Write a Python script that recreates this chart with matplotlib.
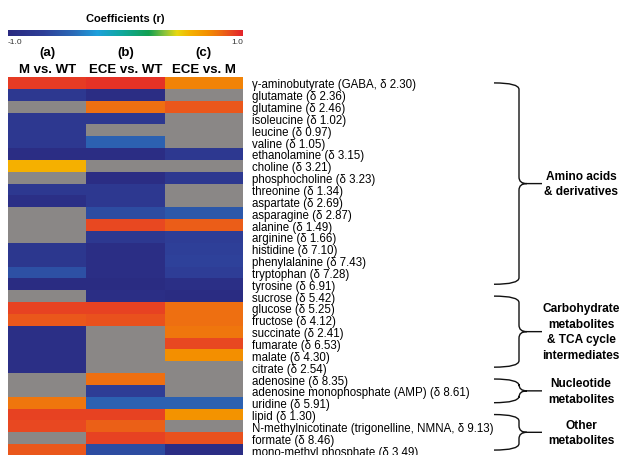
import numpy as np
import matplotlib
matplotlib.use("Agg")
from matplotlib import pyplot as plt
from matplotlib.colors import LinearSegmentedColormap
from matplotlib.path import Path
from matplotlib.patches import PathPatch

plt.rcParams["font.family"] = ["Liberation Sans", "DejaVu Sans"]

# Metabolite rows, top to bottom
metabolites = [
    "γ-aminobutyrate (GABA, δ 2.30)",
    "glutamate (δ 2.36)",
    "glutamine (δ 2.46)",
    "isoleucine (δ 1.02)",
    "leucine (δ 0.97)",
    "valine (δ 1.05)",
    "ethanolamine (δ 3.15)",
    "choline (δ 3.21)",
    "phosphocholine (δ 3.23)",
    "threonine (δ 1.34)",
    "aspartate (δ 2.69)",
    "asparagine (δ 2.87)",
    "alanine (δ 1.49)",
    "arginine (δ 1.66)",
    "histidine (δ 7.10)",
    "phenylalanine (δ 7.43)",
    "tryptophan (δ 7.28)",
    "tyrosine (δ 6.91)",
    "sucrose (δ 5.42)",
    "glucose (δ 5.25)",
    "fructose (δ 4.12)",
    "succinate (δ 2.41)",
    "fumarate (δ 6.53)",
    "malate (δ 4.30)",
    "citrate (δ 2.54)",
    "adenosine (δ 8.35)",
    "adenosine monophosphate (AMP) (δ 8.61)",
    "uridine (δ 5.91)",
    "lipid (δ 1.30)",
    "N-methylnicotinate (trigonelline, NMNA, δ 9.13)",
    "formate (δ 8.46)",
    "mono-methyl phosphate (δ 3.49)",
]

panel_tags = ["(a)", "(b)", "(c)"]
comparisons = ["M vs. WT", "ECE vs. WT", "ECE vs. M"]

nan = np.nan
# correlation coefficients; nan = not significant
r_m_wt = [0.93, -0.80, nan, -0.80, -0.80, -0.80, -0.95, 0.56, nan, -0.80,
          -0.92, nan, nan, nan, -0.82, -0.82, -0.60, -0.97, nan, 0.92,
          0.86, -0.92, -0.92, -0.92, -0.92, nan, nan, 0.78, 0.92, 0.90,
          nan, 0.86]
r_ece_wt = [0.96, -0.95, 0.80, -0.80, nan, -0.50, -0.95, nan, -0.95, -0.80,
            -0.80, -0.62, 0.90, -0.80, -0.93, -0.93, -0.93, -0.97, -0.93, 0.92,
            0.88, nan, nan, nan, nan, 0.80, -0.72, -0.50, 0.92, 0.84,
            0.92, -0.62]
r_ece_m = [0.74, nan, 0.86, nan, nan, nan, -0.80, nan, -0.80, nan,
           nan, -0.55, 0.85, -0.72, -0.70, -0.68, -0.72, -0.92, -0.97, 0.80,
           0.80, 0.78, 0.90, 0.70, nan, nan, nan, -0.50, 0.68, nan,
           0.88, -0.95]

groups = ["Amino acids\n& derivatives",
          "Carbohydrate\nmetabolites\n& TCA cycle\nintermediates",
          "Nucleotide\nmetabolites",
          "Other\nmetabolites"]
group_first = [0, 18, 25, 28]
group_last = [17, 24, 27, 31]

cmap = LinearSegmentedColormap.from_list("coef", [
    (0.00, "#2a2a80"),
    (0.15, "#2e3f98"),
    (0.28, "#2b6bb8"),
    (0.38, "#1ea0dc"),
    (0.48, "#10a8a0"),
    (0.60, "#12a050"),
    (0.67, "#8ec43a"),
    (0.72, "#e8d810"),
    (0.78, "#f5b000"),
    (0.85, "#f39000"),
    (0.90, "#ee7010"),
    (0.95, "#e84a20"),
    (1.00, "#e3232a"),
])
cmap.set_bad("#8a8786")

data = np.ma.masked_invalid(np.column_stack([r_m_wt, r_ece_wt, r_ece_m]))
n_rows = len(metabolites)

W, H = 628, 456
fig = plt.figure(figsize=(W / 100, H / 100), dpi=100)

# heatmap
left, right, top, bottom = 8, 243, 78, 457
row_h = (bottom - top) / n_rows
ax = fig.add_axes([left / W, (H - bottom) / H, (right - left) / W, (bottom - top) / H])
ax.pcolormesh(np.arange(4), np.arange(n_rows + 1), data, cmap=cmap,
              vmin=-1, vmax=1, edgecolors="none")
ax.set_xlim(0, 3)
ax.set_ylim(n_rows, 0)
ax.set_xticks([])
ax.yaxis.tick_right()
ax.set_yticks(np.arange(n_rows) + 0.5)
ax.set_yticklabels(metabolites, fontsize=8.3)
ax.tick_params(axis="y", length=0, pad=6.5)
for s in ax.spines.values():
    s.set_visible(False)

# column headers
for i, (tag, name) in enumerate(zip(panel_tags, comparisons)):
    ax.text(i + 0.5, (53 - top) / row_h, tag, ha="center", va="center",
            fontsize=9.5, fontweight="bold")
    ax.text(i + 0.5, (70 - top) / row_h, name, ha="center", va="center",
            fontsize=9.5, fontweight="bold")

# colour bar
cax = fig.add_axes([left / W, (H - 37) / H, (right - left) / W, 6 / H])
cax.imshow(np.linspace(-1, 1, 256)[None, :], cmap=cmap, aspect="auto",
           extent=[-1, 1, 0, 1])
cax.set_axis_off()
cax.text(0, 3.0, "Coefficients (r)", ha="center", va="center", fontsize=8,
         fontweight="bold", transform=cax.get_xaxis_transform())
cax.text(-1, -0.9, "-1.0", ha="left", va="center", fontsize=6,
         color="#333333", transform=cax.get_xaxis_transform())
cax.text(1, -0.9, "1.0", ha="right", va="center", fontsize=6,
         color="#333333", transform=cax.get_xaxis_transform())

# group braces, in heatmap data units
px = 3 / (right - left)
x0 = (494 - left) * px
x1 = (519 - left) * px
x2 = (542 - left) * px
xt = (581 - left) * px
for name, first, last in zip(groups, group_first, group_last):
    y_a = first + 0.5
    y_b = last + 0.5
    ym = (y_a + y_b) / 2
    c = 0.55
    verts = [(x0, y_a), (x1, y_a), (x1, y_a + c),
             (x1, ym - c), (x1, ym), (x1 + 0.1, ym),
             (x2, ym),
             (x1 + 0.1, ym), (x1, ym), (x1, ym + c),
             (x1, y_b - c), (x1, y_b), (x0, y_b)]
    codes = [Path.MOVETO, Path.CURVE3, Path.CURVE3,
             Path.LINETO, Path.CURVE3, Path.CURVE3,
             Path.LINETO,
             Path.MOVETO, Path.CURVE3, Path.CURVE3,
             Path.LINETO, Path.CURVE3, Path.CURVE3]
    ax.add_patch(PathPatch(Path(verts, codes), fill=False, lw=1.0,
                           edgecolor="#111111", clip_on=False))
    ax.text(xt, ym, name, ha="center", va="center", fontsize=8.6,
            fontweight="bold", linespacing=1.4, clip_on=False)

fig.savefig("out.png", dpi=100)
